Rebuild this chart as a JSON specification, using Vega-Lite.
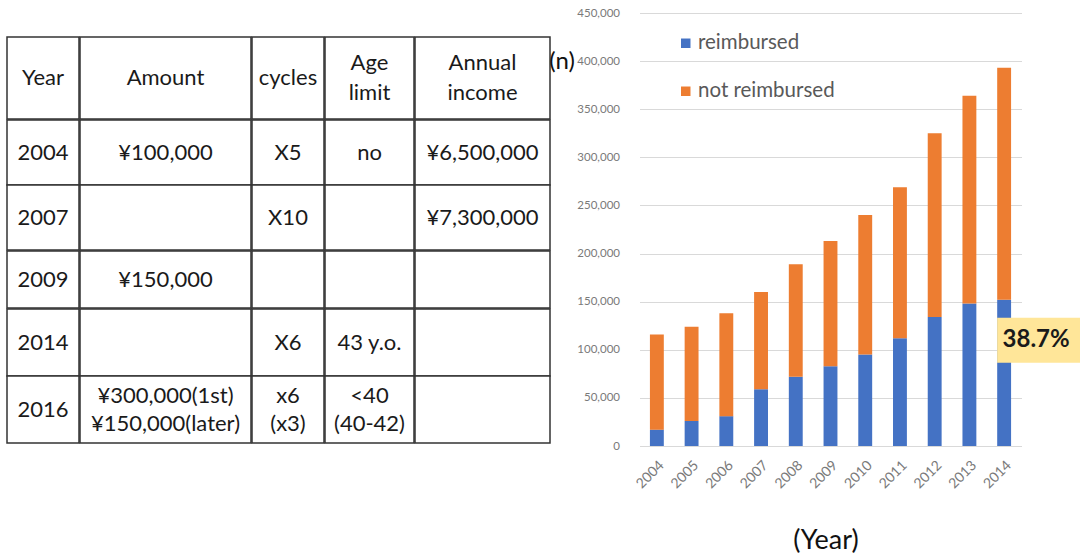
{
  "$schema": "https://vega.github.io/schema/vega-lite/v6.json",
  "background": "white",
  "padding": {"left": 6, "top": 7, "right": 0, "bottom": 0},
  "config": {"view": {"stroke": null}, "font": "Lato", "rect": {"fill": "white", "stroke": "#333333", "strokeWidth": 1.5}, "text": {"fontSize": 22, "color": "#1a1a1a"}},
  "datasets": {
    "header": [{"Year": "Year", "Amount": "Amount", "cycles": "cycles", "Age": "Age\nlimit", "Income": "Annual\nincome"}],
    "table": [
      {"Year": "2004", "Amount": "¥100,000", "AmountML": "", "cycles": "X5", "cyclesML": "", "Age": "no", "AgeML": "", "Income": "¥6,500,000"},
      {"Year": "2007", "Amount": "", "AmountML": "", "cycles": "X10", "cyclesML": "", "Age": "", "AgeML": "", "Income": "¥7,300,000"},
      {"Year": "2009", "Amount": "¥150,000", "AmountML": "", "cycles": "", "cyclesML": "", "Age": "", "AgeML": "", "Income": ""},
      {"Year": "2014", "Amount": "", "AmountML": "", "cycles": "X6", "cyclesML": "", "Age": "43 y.o.", "AgeML": "", "Income": ""},
      {"Year": "2016", "Amount": "", "AmountML": "¥300,000(1st)\n¥150,000(later)", "cycles": "", "cyclesML": "x6\n(x3)", "Age": "", "AgeML": "<40\n(40-42)", "Income": ""}
    ],
    "counts": [
      {"year": "2004", "status": "reimbursed", "count": 17000},
      {"year": "2004", "status": "not reimbursed", "count": 99000},
      {"year": "2005", "status": "reimbursed", "count": 26000},
      {"year": "2005", "status": "not reimbursed", "count": 98000},
      {"year": "2006", "status": "reimbursed", "count": 31000},
      {"year": "2006", "status": "not reimbursed", "count": 107000},
      {"year": "2007", "status": "reimbursed", "count": 59000},
      {"year": "2007", "status": "not reimbursed", "count": 101000},
      {"year": "2008", "status": "reimbursed", "count": 72000},
      {"year": "2008", "status": "not reimbursed", "count": 117000},
      {"year": "2009", "status": "reimbursed", "count": 83000},
      {"year": "2009", "status": "not reimbursed", "count": 130000},
      {"year": "2010", "status": "reimbursed", "count": 95000},
      {"year": "2010", "status": "not reimbursed", "count": 145000},
      {"year": "2011", "status": "reimbursed", "count": 112000},
      {"year": "2011", "status": "not reimbursed", "count": 157000},
      {"year": "2012", "status": "reimbursed", "count": 134000},
      {"year": "2012", "status": "not reimbursed", "count": 191000},
      {"year": "2013", "status": "reimbursed", "count": 148000},
      {"year": "2013", "status": "not reimbursed", "count": 216000},
      {"year": "2014", "status": "reimbursed", "count": 152000},
      {"year": "2014", "status": "not reimbursed", "count": 241000}
    ],
    "note": [{"year": "2014", "count": 110000, "label": "38.7%"}]
  },
  "hconcat": [
    {
      "vconcat": [
        {"width": 539, "height": 23, "data": {"values": [{"t": ""}]}, "mark": {"type": "text"}, "encoding": {"text": {"field": "t"}}},
        {
          "vconcat": [
            {
              "hconcat": [
                {"width": 72, "height": 82, "data": {"name": "header"}, "layer": [
                  {"mark": {"type": "rect"}, "encoding": {}},
                  {"mark": {"type": "text"}, "encoding": {"text": {"field": "Year"}}}
                ]},
                {"width": 171, "height": 82, "data": {"name": "header"}, "layer": [
                  {"mark": {"type": "rect"}, "encoding": {}},
                  {"mark": {"type": "text"}, "encoding": {"text": {"field": "Amount"}}}
                ]},
                {"width": 72, "height": 82, "data": {"name": "header"}, "layer": [
                  {"mark": {"type": "rect"}, "encoding": {}},
                  {"mark": {"type": "text"}, "encoding": {"text": {"field": "cycles"}}}
                ]},
                {"width": 89, "height": 82, "data": {"name": "header"}, "layer": [
                  {"mark": {"type": "rect"}, "encoding": {}},
                  {"mark": {"type": "text", "lineBreak": "\n", "lineHeight": 30, "dy": -15}, "encoding": {"text": {"field": "Age"}}}
                ]},
                {"width": 135, "height": 82, "data": {"name": "header"}, "layer": [
                  {"mark": {"type": "rect"}, "encoding": {}},
                  {"mark": {"type": "text", "lineBreak": "\n", "lineHeight": 30, "dy": -15}, "encoding": {"text": {"field": "Income"}}}
                ]}
              ],
              "spacing": -2.25
            },
            {
              "hconcat": [
                {"width": 72, "height": 130, "data": {"name": "table"}, "transform": [{"filter": {"field": "Year", "oneOf": ["2004", "2007"]}}],
                 "encoding": {"y": {"field": "Year", "type": "nominal", "sort": null, "scale": {"paddingInner": 0, "paddingOuter": 0}, "axis": null}},
                 "layer": [{"mark": {"type": "rect"}}, {"mark": {"type": "text"}, "encoding": {"text": {"field": "Year"}}}]},
                {"width": 171, "height": 130, "data": {"name": "table"}, "transform": [{"filter": {"field": "Year", "oneOf": ["2004", "2007"]}}],
                 "encoding": {"y": {"field": "Year", "type": "nominal", "sort": null, "scale": {"paddingInner": 0, "paddingOuter": 0}, "axis": null}},
                 "layer": [{"mark": {"type": "rect"}}, {"mark": {"type": "text"}, "encoding": {"text": {"field": "Amount"}}}]},
                {"width": 72, "height": 130, "data": {"name": "table"}, "transform": [{"filter": {"field": "Year", "oneOf": ["2004", "2007"]}}],
                 "encoding": {"y": {"field": "Year", "type": "nominal", "sort": null, "scale": {"paddingInner": 0, "paddingOuter": 0}, "axis": null}},
                 "layer": [{"mark": {"type": "rect"}}, {"mark": {"type": "text"}, "encoding": {"text": {"field": "cycles"}}}]},
                {"width": 89, "height": 130, "data": {"name": "table"}, "transform": [{"filter": {"field": "Year", "oneOf": ["2004", "2007"]}}],
                 "encoding": {"y": {"field": "Year", "type": "nominal", "sort": null, "scale": {"paddingInner": 0, "paddingOuter": 0}, "axis": null}},
                 "layer": [{"mark": {"type": "rect"}}, {"mark": {"type": "text"}, "encoding": {"text": {"field": "Age"}}}]},
                {"width": 135, "height": 130, "data": {"name": "table"}, "transform": [{"filter": {"field": "Year", "oneOf": ["2004", "2007"]}}],
                 "encoding": {"y": {"field": "Year", "type": "nominal", "sort": null, "scale": {"paddingInner": 0, "paddingOuter": 0}, "axis": null}},
                 "layer": [{"mark": {"type": "rect"}}, {"mark": {"type": "text"}, "encoding": {"text": {"field": "Income"}}}]}
              ],
              "spacing": -2.25
            },
            {
              "hconcat": [
                {"width": 72, "height": 57, "data": {"name": "table"}, "transform": [{"filter": {"field": "Year", "oneOf": ["2009"]}}],
                 "encoding": {"y": {"field": "Year", "type": "nominal", "sort": null, "scale": {"paddingInner": 0, "paddingOuter": 0}, "axis": null}},
                 "layer": [{"mark": {"type": "rect"}}, {"mark": {"type": "text"}, "encoding": {"text": {"field": "Year"}}}]},
                {"width": 171, "height": 57, "data": {"name": "table"}, "transform": [{"filter": {"field": "Year", "oneOf": ["2009"]}}],
                 "encoding": {"y": {"field": "Year", "type": "nominal", "sort": null, "scale": {"paddingInner": 0, "paddingOuter": 0}, "axis": null}},
                 "layer": [{"mark": {"type": "rect"}}, {"mark": {"type": "text"}, "encoding": {"text": {"field": "Amount"}}}]},
                {"width": 72, "height": 57, "data": {"name": "table"}, "transform": [{"filter": {"field": "Year", "oneOf": ["2009"]}}],
                 "encoding": {"y": {"field": "Year", "type": "nominal", "sort": null, "scale": {"paddingInner": 0, "paddingOuter": 0}, "axis": null}},
                 "layer": [{"mark": {"type": "rect"}}, {"mark": {"type": "text"}, "encoding": {"text": {"field": "cycles"}}}]},
                {"width": 89, "height": 57, "data": {"name": "table"}, "transform": [{"filter": {"field": "Year", "oneOf": ["2009"]}}],
                 "encoding": {"y": {"field": "Year", "type": "nominal", "sort": null, "scale": {"paddingInner": 0, "paddingOuter": 0}, "axis": null}},
                 "layer": [{"mark": {"type": "rect"}}, {"mark": {"type": "text"}, "encoding": {"text": {"field": "Age"}}}]},
                {"width": 135, "height": 57, "data": {"name": "table"}, "transform": [{"filter": {"field": "Year", "oneOf": ["2009"]}}],
                 "encoding": {"y": {"field": "Year", "type": "nominal", "sort": null, "scale": {"paddingInner": 0, "paddingOuter": 0}, "axis": null}},
                 "layer": [{"mark": {"type": "rect"}}, {"mark": {"type": "text"}, "encoding": {"text": {"field": "Income"}}}]}
              ],
              "spacing": -2.25
            },
            {
              "hconcat": [
                {"width": 72, "height": 134, "data": {"name": "table"}, "transform": [{"filter": {"field": "Year", "oneOf": ["2014", "2016"]}}],
                 "encoding": {"y": {"field": "Year", "type": "nominal", "sort": null, "scale": {"paddingInner": 0, "paddingOuter": 0}, "axis": null}},
                 "layer": [{"mark": {"type": "rect"}}, {"mark": {"type": "text"}, "encoding": {"text": {"field": "Year"}}}]},
                {"width": 171, "height": 134, "data": {"name": "table"}, "transform": [{"filter": {"field": "Year", "oneOf": ["2014", "2016"]}}],
                 "encoding": {"y": {"field": "Year", "type": "nominal", "sort": null, "scale": {"paddingInner": 0, "paddingOuter": 0}, "axis": null}},
                 "layer": [{"mark": {"type": "rect"}}, {"mark": {"type": "text"}, "encoding": {"text": {"field": "Amount"}}},
                           {"mark": {"type": "text", "lineBreak": "\n", "lineHeight": 28, "dy": -14}, "encoding": {"text": {"field": "AmountML"}}}]},
                {"width": 72, "height": 134, "data": {"name": "table"}, "transform": [{"filter": {"field": "Year", "oneOf": ["2014", "2016"]}}],
                 "encoding": {"y": {"field": "Year", "type": "nominal", "sort": null, "scale": {"paddingInner": 0, "paddingOuter": 0}, "axis": null}},
                 "layer": [{"mark": {"type": "rect"}}, {"mark": {"type": "text"}, "encoding": {"text": {"field": "cycles"}}},
                           {"mark": {"type": "text", "lineBreak": "\n", "lineHeight": 28, "dy": -14}, "encoding": {"text": {"field": "cyclesML"}}}]},
                {"width": 89, "height": 134, "data": {"name": "table"}, "transform": [{"filter": {"field": "Year", "oneOf": ["2014", "2016"]}}],
                 "encoding": {"y": {"field": "Year", "type": "nominal", "sort": null, "scale": {"paddingInner": 0, "paddingOuter": 0}, "axis": null}},
                 "layer": [{"mark": {"type": "rect"}}, {"mark": {"type": "text"}, "encoding": {"text": {"field": "Age"}}},
                           {"mark": {"type": "text", "lineBreak": "\n", "lineHeight": 28, "dy": -14}, "encoding": {"text": {"field": "AgeML"}}}]},
                {"width": 135, "height": 134, "data": {"name": "table"}, "transform": [{"filter": {"field": "Year", "oneOf": ["2014", "2016"]}}],
                 "encoding": {"y": {"field": "Year", "type": "nominal", "sort": null, "scale": {"paddingInner": 0, "paddingOuter": 0}, "axis": null}},
                 "layer": [{"mark": {"type": "rect"}}, {"mark": {"type": "text"}, "encoding": {"text": {"field": "Income"}}}]}
              ],
              "spacing": -2.25
            }
          ],
          "spacing": -2.5
        }
      ],
      "spacing": 0
    },
    {
      "width": 382,
      "height": 433,
      "encoding": {
        "x": {
          "field": "year", "type": "ordinal", "title": "(Year)",
          "scale": {"paddingInner": 0.6, "paddingOuter": 0.3},
          "axis": {"labelAngle": -45, "labelFontSize": 14, "labelColor": "#7a7a7a", "domain": false, "ticks": false, "labelPadding": 12, "grid": false,
                   "titleFontSize": 27, "titleFontWeight": "normal", "titleColor": "#111111", "titleY": 81, "titleX": 186, "titleAlign": "center", "titleBaseline": "top"}
        },
        "y": {
          "field": "count", "type": "quantitative", "title": "(n)",
          "scale": {"domain": [0, 450000], "nice": false},
          "axis": {"values": [0, 50000, 100000, 150000, 200000, 250000, 300000, 350000, 400000, 450000], "format": ",d",
                   "labelFontSize": 11.5, "labelColor": "#7a7a7a", "domain": false, "ticks": false, "gridColor": "#d9d9d9", "labelPadding": 20,
                   "titleAngle": 0, "titleX": -78, "titleY": 48, "titleAlign": "center", "titleBaseline": "middle",
                   "titleFontSize": 24, "titleFontWeight": "normal", "titleColor": "#111111"}
        }
      },
      "layer": [
        {
          "data": {"name": "counts"},
          "mark": {"type": "bar", "stroke": null, "strokeWidth": 0},
          "encoding": {
            "color": {
              "field": "status", "type": "nominal",
              "scale": {"domain": ["reimbursed", "not reimbursed"], "range": ["#4472C4", "#ED7D31"]},
              "legend": {"orient": "none", "legendX": 36, "legendY": 20, "title": null, "symbolType": "square", "symbolSize": 90,
                         "labelFontSize": 20.5, "labelColor": "#595959", "rowPadding": 27, "labelOffset": 2, "padding": 0, "symbolStrokeWidth": 0}
            },
            "order": {"field": "status", "sort": "descending"}
          }
        },
        {
          "data": {"name": "note"},
          "mark": {"type": "point", "shape": "M-0.175,-0.5625H1.9V0.5625H-0.175Z", "size": 6400, "filled": true, "fill": "#FFE699", "opacity": 1, "strokeWidth": 0}
        },
        {
          "data": {"name": "note"},
          "mark": {"type": "text", "dx": 32, "fontSize": 24, "fontWeight": "bold", "color": "#1a1a1a"},
          "encoding": {"text": {"field": "label"}}
        }
      ]
    }
  ],
  "spacing": -2.5,
  "resolve": {"scale": {"x": "independent", "y": "independent", "color": "independent"}, "legend": {"color": "independent"}}
}
